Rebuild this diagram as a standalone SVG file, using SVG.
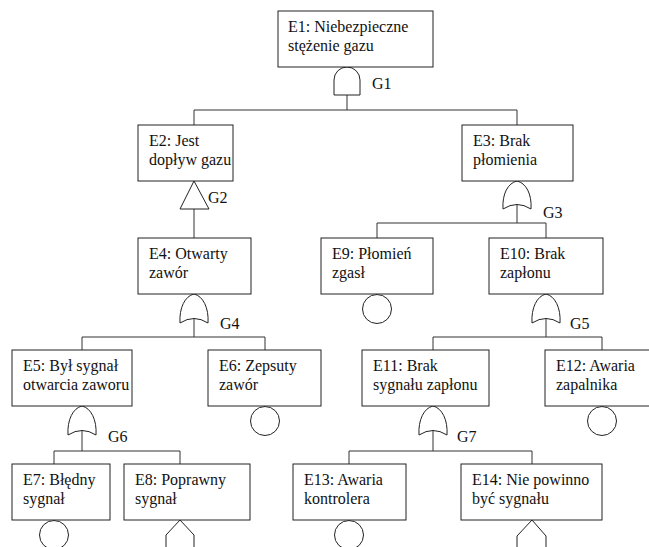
<svg xmlns="http://www.w3.org/2000/svg" width="649" height="547" viewBox="0 0 649 547">
<style>
.box{fill:#fff;stroke:#222;stroke-width:1}
.g{fill:#fff;stroke:#222;stroke-width:1}
.c line{stroke:#333;stroke-width:1}
text{font-family:"Liberation Serif","Times New Roman",serif;font-size:16px;fill:#111}
</style>
<rect width="649" height="547" fill="#fff"/>
<g id="connectors" class="c">
<line x1="347" y1="95" x2="347" y2="110"/>
<line x1="194" y1="110" x2="517" y2="110"/>
<line x1="194" y1="110" x2="194" y2="125"/>
<line x1="517" y1="110" x2="517" y2="125"/>
<line x1="194" y1="209" x2="194" y2="238"/>
<line x1="517" y1="204" x2="517" y2="223"/>
<line x1="377" y1="223" x2="546" y2="223"/>
<line x1="377" y1="223" x2="377" y2="238"/>
<line x1="546" y1="223" x2="546" y2="238"/>
<line x1="194" y1="318" x2="194" y2="337"/>
<line x1="82" y1="337" x2="265" y2="337"/>
<line x1="82" y1="337" x2="82" y2="350"/>
<line x1="265" y1="337" x2="265" y2="350"/>
<line x1="546" y1="318" x2="546" y2="337"/>
<line x1="433" y1="337" x2="602" y2="337"/>
<line x1="433" y1="337" x2="433" y2="350"/>
<line x1="602" y1="337" x2="602" y2="350"/>
<line x1="82" y1="430" x2="82" y2="451"/>
<line x1="54" y1="451" x2="180" y2="451"/>
<line x1="54" y1="451" x2="54" y2="464"/>
<line x1="180" y1="451" x2="180" y2="464"/>
<line x1="433" y1="430" x2="433" y2="451"/>
<line x1="349" y1="451" x2="532" y2="451"/>
<line x1="349" y1="451" x2="349" y2="464"/>
<line x1="532" y1="451" x2="532" y2="464"/>
</g>
<g id="G1"><path class="g" d="M334,95 V80 A13 13 0 0 1 360,80 V95 Z"/><text x="372" y="89">G1</text></g>
<g id="G2"><path class="g" d="M194,181 L180,209 L209,209 Z"/><text x="208" y="203">G2</text></g>
<g id="G3"><path class="g" d="M503,209 Q517,200 531,209 C532,194 526,183 517,181 C508,183 502,194 503,209 Z"/><text x="543" y="218">G3</text></g>
<g id="G4"><path class="g" d="M180,323 Q194,314 208,323 C209,308 203,296 194,294 C185,296 179,308 180,323 Z"/><text x="220" y="329">G4</text></g>
<g id="G5"><path class="g" d="M532,323 Q546,314 560,323 C561,308 555,296 546,294 C537,296 531,308 532,323 Z"/><text x="570" y="329">G5</text></g>
<g id="G6"><path class="g" d="M68,435 Q82,426 96,435 C97,420 91,408 82,406 C73,408 67,420 68,435 Z"/><text x="108" y="442">G6</text></g>
<g id="G7"><path class="g" d="M419,435 Q433,426 447,435 C448,420 442,408 433,406 C424,408 418,420 419,435 Z"/><text x="457" y="442">G7</text></g>
<g id="E1"><rect class="box" x="278" y="11" width="155" height="56"/><text x="288" y="32">E1: Niebezpieczne</text><text x="288" y="51">stężenie gazu</text></g>
<g id="E2"><rect class="box" x="138" y="125" width="95" height="56"/><text x="149" y="146">E2: Jest</text><text x="149" y="165">dopływ gazu</text></g>
<g id="E3"><rect class="box" x="462" y="125" width="111" height="56"/><text x="473" y="146">E3: Brak</text><text x="473" y="165">płomienia</text></g>
<g id="E4"><rect class="box" x="138" y="238" width="113" height="56"/><text x="149" y="259">E4: Otwarty</text><text x="149" y="278">zawór</text></g>
<g id="E9"><rect class="box" x="321" y="238" width="112" height="56"/><text x="332" y="259">E9: Płomień</text><text x="332" y="278">zgasł</text><circle class="g" cx="377" cy="309" r="14.5"/></g>
<g id="E10"><rect class="box" x="489" y="238" width="114" height="56"/><text x="500" y="259">E10: Brak</text><text x="500" y="278">zapłonu</text></g>
<g id="E5"><rect class="box" x="12" y="350" width="120" height="56"/><text x="23" y="371">E5: Był sygnał</text><text x="23" y="390">otwarcia zaworu</text></g>
<g id="E6"><rect class="box" x="208" y="350" width="113" height="56"/><text x="219" y="371">E6: Zepsuty</text><text x="219" y="390">zawór</text><circle class="g" cx="265" cy="421" r="14.5"/></g>
<g id="E11"><rect class="box" x="362" y="350" width="127" height="56"/><text x="373" y="371">E11: Brak</text><text x="373" y="390">sygnału zapłonu</text></g>
<g id="E12"><rect class="box" x="545" y="350" width="110" height="56"/><text x="556" y="371">E12: Awaria</text><text x="556" y="390">zapalnika</text><circle class="g" cx="602" cy="421" r="14.5"/></g>
<g id="E7"><rect class="box" x="12" y="464" width="98" height="56"/><text x="23" y="485">E7: Błędny</text><text x="23" y="504">sygnał</text><circle class="g" cx="54" cy="535" r="14.5"/></g>
<g id="E8"><rect class="box" x="124" y="464" width="126" height="56"/><text x="135" y="485">E8: Poprawny</text><text x="135" y="504">sygnał</text><path class="g" d="M166,552 V535 L180,520 L194,535 V552"/></g>
<g id="E13"><rect class="box" x="293" y="464" width="113" height="56"/><text x="304" y="485">E13: Awaria</text><text x="304" y="504">kontrolera</text><circle class="g" cx="349" cy="535" r="14.5"/></g>
<g id="E14"><rect class="box" x="461" y="464" width="141" height="56"/><text x="472" y="485">E14: Nie powinno</text><text x="472" y="504">być sygnału</text><path class="g" d="M517,552 V536 L532,520 L546,536 V552"/></g>
</svg>
